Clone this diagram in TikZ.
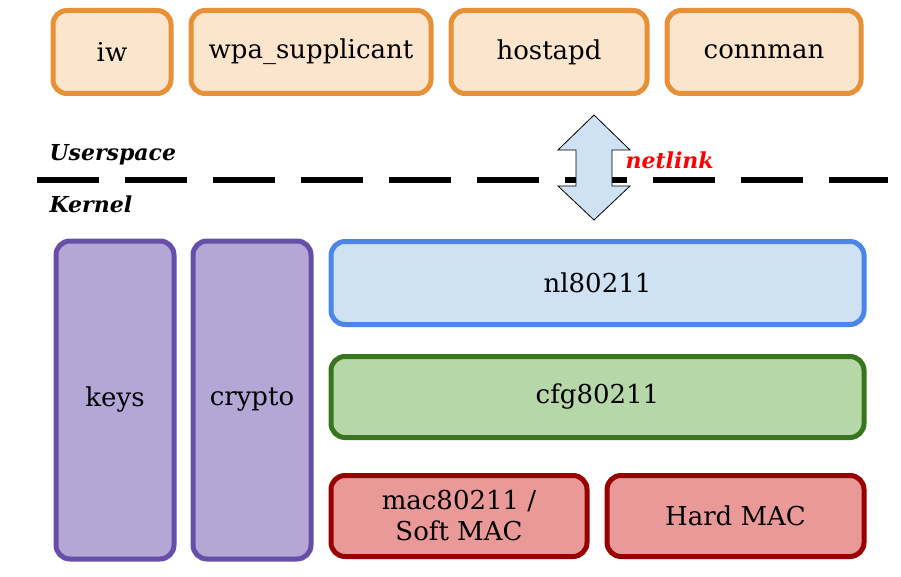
\documentclass[tikz,border=0pt]{standalone}
\usepackage{fontspec}
\setmainfont{DejaVu Serif}
\begin{document}
\begin{tikzpicture}[x=1pt,y=-1pt,
 box/.style={draw,line width=5pt,rounded corners=14pt,font=\fontsize{26}{31}\selectfont,align=center},
 orange/.style={box,draw=orangeD,fill=orangeL},
 purple/.style={box,draw=purpleD,fill=purpleL},
 lbl/.style={font=\fontsize{22}{24}\selectfont\bfseries\itshape,anchor=west}]
\definecolor{orangeD}{HTML}{E69138}\definecolor{orangeL}{HTML}{FCE5CD}
\definecolor{purpleD}{HTML}{674EA7}\definecolor{purpleL}{HTML}{B4A7D6}
\definecolor{blueD}{HTML}{4A86E8}\definecolor{blueL}{HTML}{CFE2F3}
\definecolor{greenD}{HTML}{38761D}\definecolor{greenL}{HTML}{B6D7A8}
\definecolor{redD}{HTML}{990000}\definecolor{redL}{HTML}{EA9999}
\useasboundingbox (0,0) rectangle (901,577);
\node[orange,minimum width=118,minimum height=83] (iw) at (112,52) {iw};
\node[orange,minimum width=240,minimum height=83] (wpa) at (311,52) {wpa\_supplicant};
\node[orange,minimum width=196,minimum height=83] (host) at (549,52) {hostapd};
\node[orange,minimum width=194,minimum height=83] (conn) at (764,52) {connman};
\draw[line width=6pt,dash pattern=on 62pt off 26pt] (37,180) -- (888,180);
\node[lbl] (us) at (46,155) {Userspace};
\node[lbl] (kn) at (46,204) {Kernel};
\node[lbl,text=red] (nl) at (622,160) {netlink};
\draw[fill=blueL,line width=0.8pt] (594,115) -- (630,150) -- (612,150) -- (612,186) -- (630,186) -- (594,220) -- (558,186) -- (576,186) -- (576,150) -- (558,150) -- cycle;
\node[purple,minimum width=118,minimum height=318] (keys) at (115,400) {keys};
\node[purple,minimum width=118,minimum height=318] (crypto) at (252,400) {crypto};
\node[box,draw=blueD,fill=blueL,minimum width=533,minimum height=83] (nl80211) at (597.5,283) {nl80211};
\node[box,draw=greenD,fill=greenL,minimum width=533,minimum height=81] (cfg) at (597.5,397) {cfg80211};
\node[box,draw=redD,fill=redL,minimum width=256,minimum height=81] (mac) at (459,516) {mac80211 /\\Soft MAC};
\node[box,draw=redD,fill=redL,minimum width=257,minimum height=81] (hard) at (735.5,516) {Hard MAC};
\end{tikzpicture}
\end{document}
